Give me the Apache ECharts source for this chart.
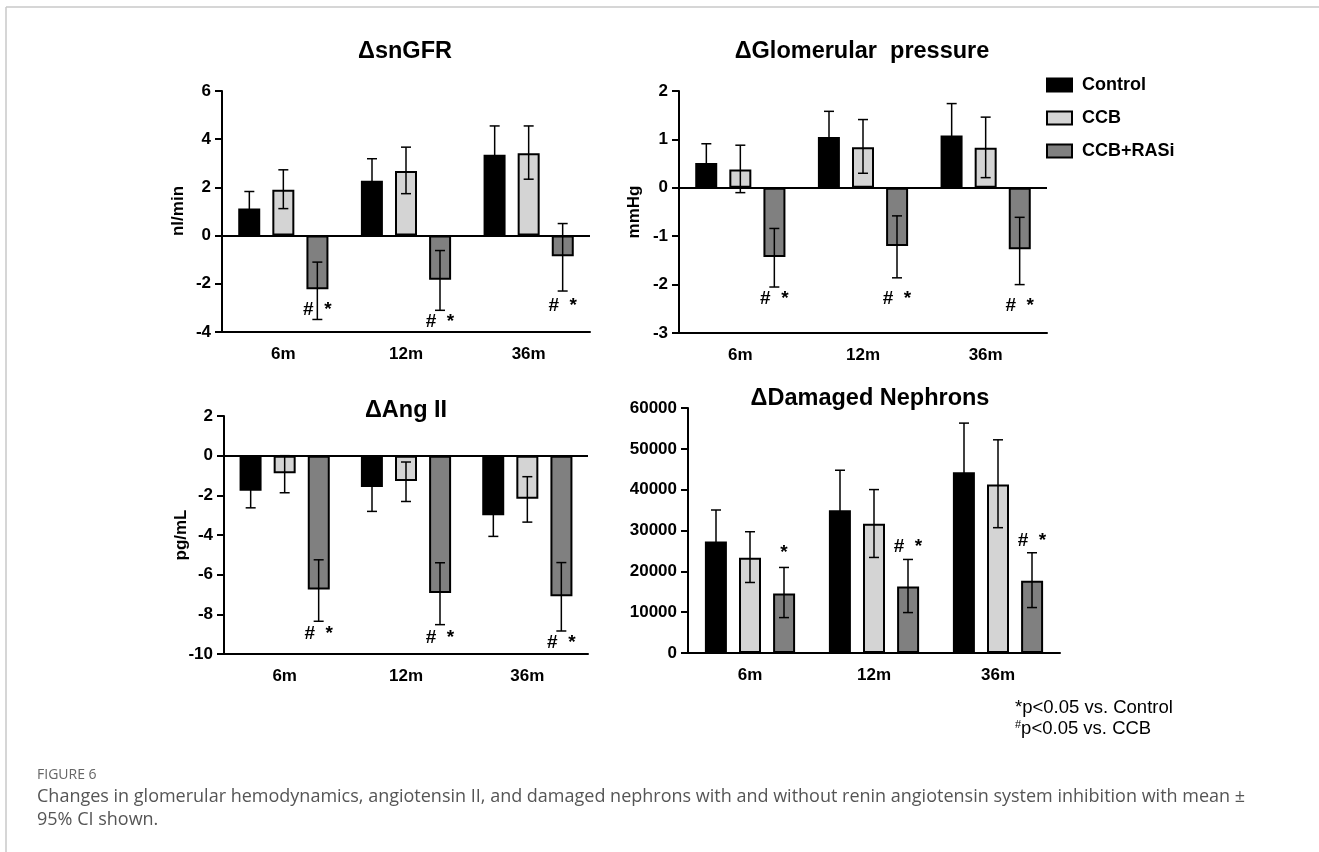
<!DOCTYPE html>
<html>
<head>
<meta charset="utf-8">
<title>Figure 6</title>
<script src="https://cdn.jsdelivr.net/npm/echarts@6/dist/echarts.min.js"></script>
<style>
  html, body { margin: 0; padding: 0; background: #fff; }
  #main { width: 1319px; height: 852px; }
</style>
</head>
<body>
<div id="main"></div>
<script>
// categories and groups
var months = ['6m', '12m', '36m'];
var groups = ['Control', 'CCB', 'CCB+RASi'];

// ΔsnGFR (nl/min), means and 95% CI [lo, hi]
var gfrControl = [1.12, 2.28, 3.35];
var gfrCCB = [1.90, 2.68, 3.42];
var gfrRASi = [-2.23, -1.83, -0.86];
var gfrControlCI = [[0.41, 1.83], [1.37, 3.19], [2.15, 4.55]];
var gfrCCBCI = [[1.12, 2.73], [1.74, 3.67], [2.34, 4.55]];
var gfrRASiCI = [[-3.48, -1.10], [-3.10, -0.62], [-2.30, 0.50]];
var gfrMarks = ['#  *', '#  *', '#  *'];
var gfrMarkAt = [-3.06, -3.56, -2.90];

// ΔGlomerular pressure (mmHg)
var presControl = [0.51, 1.05, 1.08];
var presCCB = [0.38, 0.84, 0.83];
var presRASi = [-1.43, -1.20, -1.27];
var presControlCI = [[0.11, 0.91], [0.52, 1.58], [0.42, 1.74]];
var presCCBCI = [[-0.10, 0.88], [0.30, 1.41], [0.21, 1.46]];
var presRASiCI = [[-2.05, -0.84], [-1.86, -0.58], [-2.00, -0.61]];
var presMarks = ['#  *', '#  *', '#  *'];
var presMarkAt = [-2.30, -2.30, -2.44];

// ΔAng II (pg/mL)
var angControl = [-1.77, -1.58, -3.00];
var angCCB = [-0.89, -1.28, -2.17];
var angRASi = [-6.75, -6.92, -7.09];
var angControlCI = [[-2.63, -0.91], [-2.81, -0.35], [-4.07, -1.93]];
var angCCBCI = [[-1.87, 0], [-2.31, -0.32], [-3.35, -1.06]];
var angRASiCI = [[-8.35, -5.25], [-8.52, -5.40], [-8.84, -5.39]];
var angMarks = ['#  *', '#  *', '#  *'];
var angMarkAt = [-8.99, -9.19, -9.45];

// ΔDamaged Nephrons
var nephControl = [27330, 34940, 44270];
var nephCCB = [23320, 31670, 41240];
var nephRASi = [14570, 16280, 17680];
var nephControlCI = [[19640, 35020], [25120, 44760], [32240, 56300]];
var nephCCBCI = [[17270, 29700], [23400, 40020], [30690, 52210]];
var nephRASiCI = [[8670, 20950], [9900, 22910], [11130, 24550]];
var nephMarks = ['*', '#  *', '#  *'];
var nephMarkAt = [24570, 26040, 27520];

var FONT = '"Liberation Sans", Arial, sans-serif';
var CAPTION_FONT = '"Open Sans", sans-serif';
var barColors = ['#000000', '#d4d4d4', '#808080'];
var STEP = 34; // distance between bar centres in a group

var chart = echarts.init(document.getElementById('main'), null, { renderer: 'canvas' });

var panels = [
  { title: 'ΔsnGFR', means: [gfrControl, gfrCCB, gfrRASi], cis: [gfrControlCI, gfrCCBCI, gfrRASiCI],
    marks: gfrMarks, markAt: gfrMarkAt, min: -4, max: 6, interval: 2, zero: true,
    grid: { left: 222, top: 91, width: 368, height: 241 } },
  { title: 'ΔGlomerular  pressure', means: [presControl, presCCB, presRASi], cis: [presControlCI, presCCBCI, presRASiCI],
    marks: presMarks, markAt: presMarkAt, min: -3, max: 2, interval: 1, zero: true,
    grid: { left: 679, top: 91, width: 368, height: 242 } },
  { title: 'ΔAng II', means: [angControl, angCCB, angRASi], cis: [angControlCI, angCCBCI, angRASiCI],
    marks: angMarks, markAt: angMarkAt, min: -10, max: 2, interval: 2, zero: true,
    grid: { left: 224, top: 416, width: 364, height: 238 } },
  { title: 'ΔDamaged Nephrons', means: [nephControl, nephCCB, nephRASi], cis: [nephControlCI, nephCCBCI, nephRASiCI],
    marks: nephMarks, markAt: nephMarkAt, min: 0, max: 60000, interval: 10000, zero: false,
    grid: { left: 688, top: 408, width: 372, height: 245 } }
];

var grids = [], xAxes = [], yAxes = [], series = [];

panels.forEach(function (p, i) {
  grids.push(p.grid);
  xAxes.push({
    type: 'category', gridIndex: i, data: months,
    axisLine: { onZero: false, lineStyle: { color: '#000', width: 2 } },
    axisTick: { alignWithLabel: true, length: 8, lineStyle: { width: 2 } },
    axisLabel: { color: '#000', fontWeight: 'bold', fontSize: 17, fontFamily: FONT, margin: 14 }
  });
  yAxes.push({
    type: 'value', gridIndex: i, min: p.min, max: p.max, interval: p.interval,
    splitLine: { show: false },
    axisLine: { show: true, lineStyle: { color: '#000', width: 2 } },
    axisTick: { show: true, length: 7, lineStyle: { width: 2 } },
    axisLabel: { color: '#000', fontWeight: 'bold', fontSize: 17, fontFamily: FONT, margin: 11,
      formatter: function (v) { return String(v); } }
  });

  groups.forEach(function (g, s) {
    var bar = {
      name: g, type: 'bar', xAxisIndex: i, yAxisIndex: i,
      data: p.means[s], barWidth: 22, barGap: '55%',
      itemStyle: { color: barColors[s], borderColor: '#000', borderWidth: 2 },
      animation: false
    };
    if (s === 0 && p.zero) {
      bar.markLine = {
        silent: true, symbol: 'none', label: { show: false }, animation: false,
        lineStyle: { color: '#000', width: 2, type: 'solid' },
        data: [{ yAxis: 0 }]
      };
    }
    series.push(bar);
  });

  // 95% CI whiskers
  var ciData = [];
  p.cis.forEach(function (ci, s) {
    ci.forEach(function (r, c) { ciData.push([c, r[0], r[1], s]); });
  });
  series.push({
    type: 'custom', xAxisIndex: i, yAxisIndex: i, z: 5, silent: true, animation: false,
    data: ciData, encode: { x: 0, y: [1, 2] },
    renderItem: function (params, api) {
      var c = api.value(0), s = api.value(3);
      var lo = api.coord([c, api.value(1)]);
      var hi = api.coord([c, api.value(2)]);
      var x = lo[0] + (s - 1) * STEP;
      var st = { stroke: '#000', lineWidth: 1.5 };
      return {
        type: 'group', children: [
          { type: 'line', shape: { x1: x, y1: lo[1], x2: x, y2: hi[1] }, style: st },
          { type: 'line', shape: { x1: x - 5, y1: lo[1], x2: x + 5, y2: lo[1] }, style: st },
          { type: 'line', shape: { x1: x - 5, y1: hi[1], x2: x + 5, y2: hi[1] }, style: st }
        ]
      };
    }
  });

  // significance marks next to the CCB+RASi bars
  series.push({
    type: 'custom', xAxisIndex: i, yAxisIndex: i, z: 6, silent: true, animation: false,
    data: p.markAt.map(function (v, c) { return [c, v]; }),
    renderItem: function (params, api) {
      var pt = api.coord([api.value(0), api.value(1)]);
      return {
        type: 'text',
        style: {
          text: p.marks[params.dataIndex], x: pt[0] + STEP, y: pt[1],
          align: 'center', verticalAlign: 'middle',
          fontSize: 19, fontWeight: 'bold', fontFamily: FONT, fill: '#000'
        }
      };
    }
  });
});

function title(text, x, y) {
  return { type: 'text', x: x, y: y, style: { text: text, align: 'center', verticalAlign: 'middle',
    fontSize: 23.5, fontWeight: 'bold', fontFamily: FONT, fill: '#000' } };
}
function yName(text, x, y) {
  return { type: 'text', x: x, y: y, rotation: Math.PI / 2, style: { text: text, align: 'center',
    verticalAlign: 'middle', fontSize: 17, fontWeight: 'bold', fontFamily: FONT, fill: '#000' } };
}

var option = {
  animation: false,
  grid: grids, xAxis: xAxes, yAxis: yAxes, series: series,
  legend: {
    data: groups, orient: 'vertical', left: 1041, top: 71,
    itemWidth: 25, itemHeight: 13, itemGap: 15, icon: 'rect',
    textStyle: { color: '#000', fontSize: 18, fontWeight: 'bold', fontFamily: FONT, padding: [0, 0, 0, 5] }
  },
  graphic: [
    { type: 'line', shape: { x1: 6, y1: 7, x2: 1319, y2: 7 }, style: { stroke: '#c8c8c8', lineWidth: 1.5 } },
    { type: 'line', shape: { x1: 6, y1: 7, x2: 6, y2: 852 }, style: { stroke: '#c8c8c8', lineWidth: 1.5 } },
    title('ΔsnGFR', 405, 52),
    title('ΔGlomerular  pressure', 862, 52),
    title('ΔAng II', 406, 411),
    title('ΔDamaged Nephrons', 870, 399),
    yName('nl/min', 178, 211),
    yName('mmHg', 634, 212),
    yName('pg/mL', 181, 535),
    { type: 'text', x: 1015, y: 708, style: { text: '*p<0.05 vs. Control', verticalAlign: 'middle',
      fontSize: 18.5, fontFamily: FONT, fill: '#000' } },
    { type: 'text', x: 1015, y: 729, style: { text: '{s|#}p<0.05 vs. CCB', verticalAlign: 'middle',
      fontSize: 18.5, fontFamily: FONT, fill: '#000',
      rich: { s: { fontSize: 11, fontFamily: FONT, verticalAlign: 'top', padding: [0, 0, 9, 0] } } } },
    { type: 'text', x: 37, y: 775, style: { text: 'FIGURE 6', verticalAlign: 'middle',
      fontSize: 14, fontFamily: CAPTION_FONT, fill: '#666' } },
    { type: 'text', x: 37, y: 797, style: { text: 'Changes in glomerular hemodynamics, angiotensin II, and damaged nephrons with and without renin angiotensin system inhibition with mean ±',
      verticalAlign: 'middle', fontSize: 18, fontFamily: CAPTION_FONT, fill: '#555' } },
    { type: 'text', x: 37, y: 820, style: { text: '95% CI shown.',
      verticalAlign: 'middle', fontSize: 18, fontFamily: CAPTION_FONT, fill: '#555' } }
  ]
};

chart.setOption(option);
</script>
</body>
</html>
